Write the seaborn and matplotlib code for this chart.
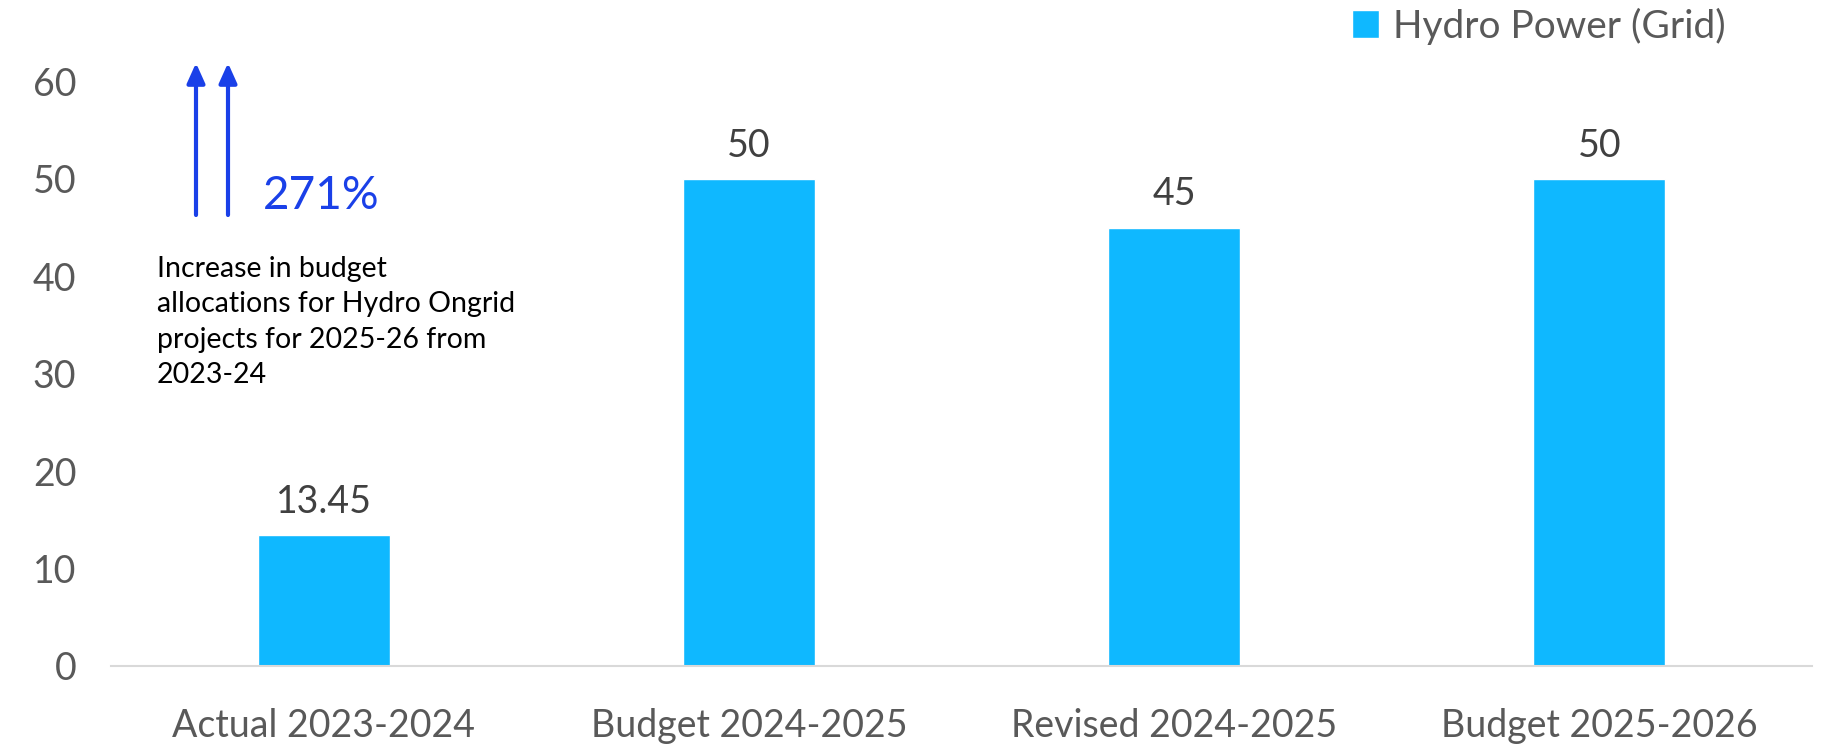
import matplotlib
matplotlib.use("Agg")
import matplotlib.pyplot as plt
import seaborn as sns
import pandas as pd

categories = ["Actual 2023-2024", "Budget 2024-2025", "Revised 2024-2025", "Budget 2025-2026"]
values = [13.45, 50, 45, 50]
series_name = "Hydro Power (Grid)"
y_ticks = [0, 10, 20, 30, 40, 50, 60]
growth_label = "271%"
note_text = "Increase in budget\nallocations for Hydro Ongrid\nprojects for 2025-26 from\n2023-24"

BAR = "#0FB8FF"
BLUE = "#1A40E8"
GRAY = "#595959"

sns.set_theme(style="white")
plt.rcParams["font.family"] = ["Lato", "DejaVu Sans"]

W, H = 1825, 745
fig = plt.figure(figsize=(W / 100, H / 100), dpi=100)
ax = fig.add_axes([111 / W, 1 - 666 / H, (1812 - 111) / W, (666 - 81.5) / H])

df = pd.DataFrame({"category": categories, "value": values})
sns.barplot(data=df, x="category", y="value", color=BAR, width=0.31,
            saturation=1, label=series_name, ax=ax)

ax.set_xlim(-0.5, 3.5)
ax.set_ylim(0, 60)
ax.set_yticks(y_ticks)
ax.set_xlabel("")
ax.set_ylabel("")
ax.tick_params(axis="y", length=0, pad=25, labelsize=27, labelcolor=GRAY)
ax.tick_params(axis="x", length=0, pad=30, labelsize=27, labelcolor=GRAY)
for s in ["left", "top", "right"]:
    ax.spines[s].set_visible(False)
ax.spines["bottom"].set_color("#D9D9D9")
ax.spines["bottom"].set_linewidth(1.5)
ax.grid(False)

for cont in ax.containers:
    ax.bar_label(cont, labels=[f"{v:g}" for v in values], padding=11,
                 fontsize=27, color="#404040")

leg = ax.legend(loc="center left", bbox_to_anchor=(1352 / W, 1 - 26 / H),
                bbox_transform=fig.transFigure, frameon=False, borderpad=0,
                borderaxespad=0, handlelength=0.7, handleheight=0.7,
                handletextpad=0.35, fontsize=28)
for t in leg.get_texts():
    t.set_color(GRAY)

# arrows
for xa in (196, 228):
    fig.patches.append(matplotlib.patches.FancyArrowPatch(
        (xa / W, 1 - 215 / H), (xa / W, 1 - 63 / H), transform=fig.transFigure,
        arrowstyle="-|>,head_length=1.0,head_width=0.45", mutation_scale=12,
        color=BLUE, linewidth=3.0, shrinkA=0, shrinkB=0))

fig.text(263 / W, 1 - 196 / H, growth_label, color=BLUE, fontsize=33,
         ha="left", va="center")
fig.text(157 / W, 1 - 256 / H, note_text, color="black", fontsize=20.5,
         ha="left", va="top", linespacing=1.45)

fig.savefig("out.png", dpi=100)
